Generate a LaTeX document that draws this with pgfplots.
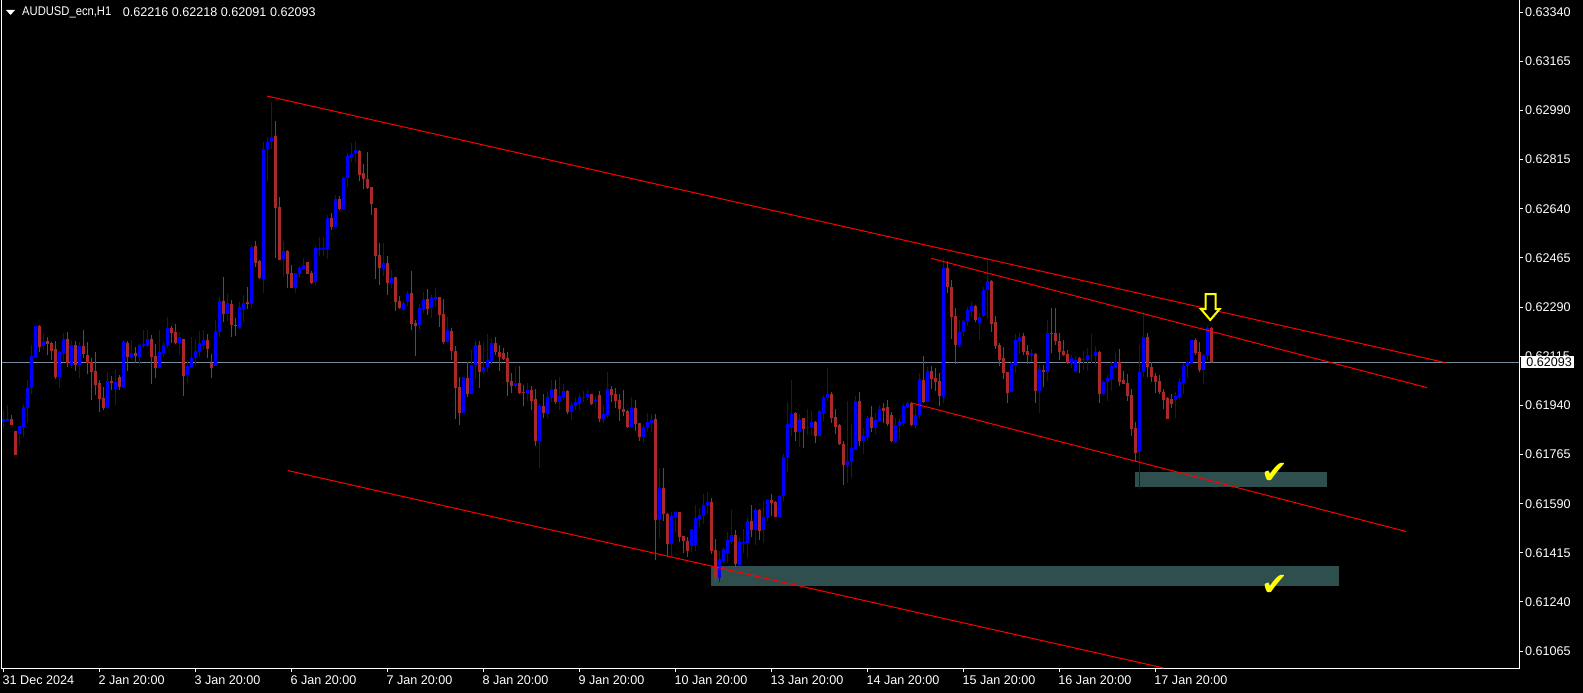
\documentclass[border=0pt]{standalone}
\usepackage{pgfplots}
\pgfplotsset{compat=1.18}
\usepackage{pgfplotstable}
\usepackage{graphicx}
\usepackage{fontspec}
\setmainfont{Liberation Sans}
\newfontfamily\symfont{DejaVu Sans}
\definecolor{bull}{RGB}{0,0,255}
\definecolor{bear}{RGB}{170,40,40}
\definecolor{zone}{RGB}{47,79,79}
\definecolor{bidline}{RGB}{119,136,153}
\definecolor{tl}{RGB}{255,0,0}
\definecolor{yel}{RGB}{255,255,0}

\pgfplotstableread{
n o h l c
1 0.61882 0.61923 0.61858 0.61891
2 0.61885 0.61940 0.61884 0.61891
5 0.61839 0.61867 0.61796 0.61866
6 0.61864 0.61945 0.61828 0.61934
7 0.61932 0.62030 0.61878 0.62003
8 0.62003 0.62155 0.61980 0.62116
9 0.62113 0.62224 0.62110 0.62222
11 0.62152 0.62195 0.62139 0.62169
15 0.62041 0.62135 0.62003 0.62131
16 0.62127 0.62197 0.62098 0.62176
18 0.62084 0.62171 0.62073 0.62154
20 0.62084 0.62164 0.62038 0.62151
27 0.61932 0.62060 0.61927 0.62027
29 0.61998 0.62068 0.61941 0.62023
31 0.62005 0.62169 0.62003 0.62165
33 0.62110 0.62173 0.62101 0.62126
35 0.62113 0.62160 0.62081 0.62156
36 0.62150 0.62208 0.62143 0.62160
37 0.62152 0.62208 0.62148 0.62176
40 0.62074 0.62208 0.62073 0.62129
41 0.62128 0.62166 0.62112 0.62155
42 0.62155 0.62255 0.62145 0.62217
45 0.62162 0.62201 0.62119 0.62183
47 0.62048 0.62101 0.62018 0.62081
48 0.62076 0.62183 0.62074 0.62109
49 0.62107 0.62176 0.62081 0.62133
50 0.62129 0.62205 0.62113 0.62163
51 0.62155 0.62209 0.62141 0.62173
54 0.62081 0.62245 0.62080 0.62205
55 0.62202 0.62327 0.62183 0.62312
57 0.62266 0.62336 0.62240 0.62304
60 0.62217 0.62308 0.62212 0.62289
61 0.62282 0.62333 0.62238 0.62303
63 0.62302 0.62512 0.62288 0.62504
66 0.62391 0.62879 0.62339 0.62852
67 0.62852 0.62896 0.62737 0.62878
68 0.62879 0.63020 0.62854 0.62896
71 0.62460 0.62524 0.62396 0.62490
74 0.62359 0.62412 0.62341 0.62411
75 0.62409 0.62435 0.62396 0.62429
76 0.62426 0.62465 0.62421 0.62440
79 0.62380 0.62506 0.62369 0.62500
80 0.62497 0.62539 0.62472 0.62500
81 0.62497 0.62541 0.62470 0.62500
82 0.62497 0.62618 0.62462 0.62607
84 0.62576 0.62690 0.62574 0.62675
86 0.62639 0.62754 0.62636 0.62750
87 0.62750 0.62837 0.62718 0.62829
88 0.62822 0.62873 0.62808 0.62834
89 0.62837 0.62881 0.62808 0.62849
96 0.62426 0.62517 0.62402 0.62448
98 0.62377 0.62422 0.62359 0.62394
101 0.62281 0.62311 0.62277 0.62305
102 0.62312 0.62347 0.62292 0.62338
105 0.62226 0.62301 0.62210 0.62288
106 0.62283 0.62344 0.62269 0.62319
108 0.62288 0.62332 0.62252 0.62326
109 0.62319 0.62358 0.62290 0.62326
112 0.62165 0.62255 0.62161 0.62209
116 0.61914 0.62042 0.61913 0.62041
118 0.61982 0.62137 0.61981 0.62085
119 0.62082 0.62169 0.62034 0.62156
121 0.62060 0.62166 0.62053 0.62077
122 0.62077 0.62194 0.62059 0.62102
123 0.62098 0.62180 0.62082 0.62162
129 0.62010 0.62077 0.62003 0.62020
132 0.61980 0.62020 0.61957 0.61995
135 0.61814 0.61945 0.61718 0.61939
137 0.61910 0.61989 0.61896 0.61970
138 0.61967 0.62030 0.61953 0.61997
140 0.61953 0.62041 0.61925 0.61973
141 0.61970 0.62016 0.61958 0.61991
143 0.61918 0.61953 0.61889 0.61941
144 0.61939 0.61969 0.61925 0.61952
145 0.61946 0.61980 0.61925 0.61970
146 0.61967 0.61991 0.61953 0.61971
147 0.61970 0.61995 0.61960 0.61980
149 0.61958 0.61974 0.61928 0.61960
151 0.61893 0.61941 0.61878 0.61909
152 0.61906 0.62059 0.61896 0.61998
158 0.61864 0.61970 0.61861 0.61931
161 0.61829 0.61871 0.61807 0.61863
162 0.61861 0.61913 0.61850 0.61882
163 0.61878 0.61909 0.61846 0.61888
165 0.61533 0.61717 0.61469 0.61646
168 0.61448 0.61561 0.61405 0.61547
169 0.61544 0.61565 0.61490 0.61561
173 0.61440 0.61501 0.61418 0.61500
174 0.61444 0.61585 0.61423 0.61539
175 0.61535 0.61576 0.61506 0.61551
176 0.61547 0.61624 0.61518 0.61585
177 0.61585 0.61633 0.61554 0.61596
180 0.61326 0.61423 0.61312 0.61393
181 0.61386 0.61434 0.61380 0.61429
182 0.61415 0.61489 0.61379 0.61461
183 0.61455 0.61567 0.61448 0.61478
185 0.61372 0.61471 0.61371 0.61455
186 0.61451 0.61500 0.61415 0.61455
187 0.61449 0.61539 0.61398 0.61528
189 0.61497 0.61576 0.61444 0.61567
191 0.61497 0.61599 0.61451 0.61542
192 0.61540 0.61606 0.61529 0.61603
195 0.61542 0.61621 0.61540 0.61617
196 0.61617 0.61767 0.61599 0.61756
197 0.61756 0.61952 0.61703 0.61873
198 0.61859 0.62030 0.61831 0.61909
200 0.61845 0.61909 0.61792 0.61891
202 0.61860 0.61927 0.61834 0.61863
203 0.61863 0.61920 0.61834 0.61881
205 0.61831 0.61923 0.61827 0.61920
206 0.61913 0.61977 0.61884 0.61970
207 0.61966 0.62074 0.61955 0.61980
212 0.61728 0.61955 0.61663 0.61742
213 0.61739 0.61873 0.61681 0.61788
214 0.61784 0.61973 0.61783 0.61955
216 0.61813 0.61859 0.61767 0.61831
217 0.61827 0.61902 0.61813 0.61895
219 0.61859 0.61913 0.61838 0.61888
220 0.61885 0.61941 0.61882 0.61927
224 0.61809 0.61895 0.61806 0.61870
225 0.61866 0.61894 0.61820 0.61884
226 0.61877 0.61945 0.61868 0.61939
227 0.61934 0.61955 0.61930 0.61948
229 0.61870 0.61934 0.61856 0.61905
230 0.61905 0.62055 0.61891 0.62034
232 0.61953 0.62076 0.61952 0.62062
236 0.61971 0.62465 0.61948 0.62429
240 0.62155 0.62244 0.62149 0.62201
241 0.62201 0.62244 0.62187 0.62240
242 0.62240 0.62290 0.62222 0.62279
243 0.62276 0.62308 0.62253 0.62294
245 0.62232 0.62269 0.62174 0.62254
246 0.62258 0.62361 0.62254 0.62351
247 0.62351 0.62465 0.62247 0.62383
253 0.61987 0.62094 0.61986 0.62087
254 0.62083 0.62194 0.62055 0.62172
255 0.62169 0.62197 0.62123 0.62183
258 0.62119 0.62140 0.62094 0.62126
260 0.61991 0.62083 0.61913 0.62069
262 0.62059 0.62244 0.62026 0.62197
268 0.62091 0.62119 0.62073 0.62108
269 0.62059 0.62115 0.62058 0.62101
271 0.62101 0.62133 0.62066 0.62104
272 0.62101 0.62145 0.62062 0.62119
273 0.62115 0.62194 0.62091 0.62119
274 0.62115 0.62151 0.62080 0.62130
276 0.61980 0.62027 0.61977 0.62023
277 0.62022 0.62048 0.61955 0.62038
278 0.62034 0.62098 0.61991 0.62081
279 0.62073 0.62126 0.62069 0.62094
285 0.61773 0.62155 0.61641 0.62060
286 0.62060 0.62272 0.62042 0.62184
294 0.61959 0.61987 0.61896 0.61973
295 0.61971 0.62035 0.61962 0.62024
296 0.62019 0.62089 0.61982 0.62080
297 0.62080 0.62099 0.62038 0.62094
298 0.62090 0.62173 0.62087 0.62172
301 0.62067 0.62124 0.62017 0.62119
302 0.62119 0.62222 0.62101 0.62215
}\bulltab

\pgfplotstableread{
n o h l c
3 0.61891 0.61904 0.61870 0.61871
4 0.61848 0.61849 0.61763 0.61764
10 0.62222 0.62226 0.62131 0.62149
12 0.62169 0.62183 0.62118 0.62160
13 0.62161 0.62165 0.62100 0.62135
14 0.62139 0.62168 0.62035 0.62041
17 0.62176 0.62201 0.62078 0.62089
19 0.62154 0.62169 0.62063 0.62084
21 0.62151 0.62208 0.62107 0.62123
22 0.62119 0.62165 0.62051 0.62089
23 0.62094 0.62108 0.61959 0.62060
24 0.62062 0.62130 0.61977 0.62013
25 0.62019 0.62030 0.61917 0.61964
26 0.61966 0.62004 0.61922 0.61932
28 0.62027 0.62044 0.61995 0.62021
30 0.62041 0.62047 0.61995 0.62005
32 0.62162 0.62170 0.62063 0.62113
34 0.62126 0.62148 0.62090 0.62116
38 0.62176 0.62190 0.62017 0.62113
39 0.62116 0.62157 0.62039 0.62074
43 0.62217 0.62223 0.62162 0.62198
44 0.62201 0.62230 0.62157 0.62162
46 0.62176 0.62177 0.61974 0.62044
52 0.62173 0.62193 0.62110 0.62141
53 0.62092 0.62123 0.62039 0.62074
56 0.62312 0.62397 0.62238 0.62266
58 0.62302 0.62315 0.62184 0.62226
59 0.62226 0.62251 0.62188 0.62224
62 0.62308 0.62361 0.62283 0.62302
64 0.62507 0.62525 0.62431 0.62448
65 0.62454 0.62458 0.62391 0.62395
69 0.62898 0.62951 0.62464 0.62644
70 0.62646 0.62682 0.62456 0.62458
72 0.62490 0.62493 0.62358 0.62409
73 0.62411 0.62440 0.62356 0.62358
77 0.62450 0.62451 0.62408 0.62409
78 0.62411 0.62418 0.62373 0.62377
83 0.62607 0.62623 0.62564 0.62576
85 0.62675 0.62685 0.62636 0.62639
90 0.62846 0.62849 0.62737 0.62760
91 0.62767 0.62800 0.62711 0.62746
92 0.62746 0.62842 0.62709 0.62712
93 0.62716 0.62719 0.62619 0.62658
94 0.62643 0.62644 0.62391 0.62473
95 0.62475 0.62517 0.62370 0.62430
97 0.62448 0.62472 0.62334 0.62377
99 0.62397 0.62398 0.62277 0.62309
100 0.62312 0.62330 0.62283 0.62288
103 0.62340 0.62419 0.62210 0.62231
104 0.62233 0.62244 0.62117 0.62224
107 0.62319 0.62354 0.62263 0.62284
110 0.62326 0.62327 0.62220 0.62263
111 0.62265 0.62319 0.62160 0.62165
113 0.62205 0.62216 0.62100 0.62134
114 0.62134 0.62152 0.61893 0.62003
115 0.62006 0.62041 0.61871 0.61914
117 0.62038 0.62095 0.61968 0.61982
120 0.62155 0.62169 0.62003 0.62060
124 0.62162 0.62183 0.62119 0.62130
125 0.62130 0.62155 0.62062 0.62112
126 0.62127 0.62144 0.62102 0.62104
127 0.62109 0.62130 0.61975 0.62024
128 0.62027 0.62055 0.61985 0.62010
130 0.62020 0.62080 0.61979 0.61985
131 0.61986 0.62011 0.61939 0.61983
133 0.61995 0.62009 0.61925 0.61957
134 0.61961 0.61998 0.61796 0.61814
136 0.61938 0.61980 0.61896 0.61914
139 0.61997 0.62030 0.61944 0.61953
142 0.61991 0.61995 0.61910 0.61918
148 0.61980 0.61981 0.61942 0.61946
150 0.61977 0.61991 0.61882 0.61893
153 0.61998 0.62009 0.61953 0.61978
154 0.61980 0.62002 0.61932 0.61957
155 0.61959 0.61980 0.61886 0.61928
156 0.61927 0.61995 0.61903 0.61918
157 0.61920 0.61924 0.61861 0.61864
159 0.61931 0.61959 0.61850 0.61875
160 0.61877 0.61878 0.61814 0.61829
164 0.61891 0.61909 0.61391 0.61533
166 0.61646 0.61717 0.61529 0.61554
167 0.61554 0.61558 0.61404 0.61448
170 0.61560 0.61561 0.61453 0.61472
171 0.61475 0.61476 0.61415 0.61458
172 0.61457 0.61472 0.61401 0.61423
178 0.61596 0.61610 0.61412 0.61421
179 0.61425 0.61464 0.61309 0.61326
184 0.61478 0.61496 0.61366 0.61377
188 0.61528 0.61585 0.61472 0.61497
190 0.61567 0.61571 0.61462 0.61494
193 0.61603 0.61624 0.61547 0.61592
194 0.61596 0.61599 0.61541 0.61542
199 0.61913 0.61916 0.61813 0.61845
201 0.61895 0.61896 0.61789 0.61856
204 0.61881 0.61884 0.61807 0.61831
208 0.61980 0.61987 0.61877 0.61895
209 0.61898 0.61927 0.61838 0.61863
210 0.61870 0.61873 0.61799 0.61802
211 0.61802 0.61813 0.61656 0.61728
215 0.61955 0.61987 0.61796 0.61814
218 0.61898 0.61938 0.61845 0.61859
221 0.61930 0.61948 0.61877 0.61920
222 0.61934 0.61959 0.61865 0.61873
223 0.61905 0.61916 0.61811 0.61813
228 0.61948 0.61952 0.61866 0.61870
231 0.62030 0.62115 0.61948 0.61952
233 0.62062 0.62080 0.61999 0.62034
234 0.62037 0.62073 0.61991 0.62023
235 0.62027 0.62055 0.61939 0.61974
237 0.62429 0.62454 0.62340 0.62361
238 0.62361 0.62386 0.62177 0.62256
239 0.62258 0.62287 0.62088 0.62155
244 0.62294 0.62297 0.62237 0.62244
248 0.62383 0.62386 0.62201 0.62230
249 0.62237 0.62258 0.62140 0.62151
250 0.62155 0.62162 0.62081 0.62101
251 0.62108 0.62148 0.62034 0.62055
252 0.62059 0.62060 0.61948 0.61984
256 0.62187 0.62197 0.62119 0.62130
257 0.62133 0.62155 0.62087 0.62119
259 0.62123 0.62126 0.61948 0.61991
261 0.62066 0.62083 0.62004 0.62059
263 0.62197 0.62287 0.62126 0.62195
264 0.62197 0.62287 0.62155 0.62169
265 0.62169 0.62197 0.62101 0.62130
266 0.62133 0.62172 0.62115 0.62119
267 0.62123 0.62137 0.62087 0.62091
270 0.62108 0.62112 0.62055 0.62094
275 0.62130 0.62133 0.61948 0.61980
280 0.62094 0.62140 0.62009 0.62023
281 0.62030 0.62062 0.62015 0.62016
282 0.62019 0.62051 0.61955 0.61973
283 0.61977 0.61998 0.61831 0.61856
284 0.61859 0.61880 0.61739 0.61770
287 0.62184 0.62197 0.62041 0.62075
288 0.62075 0.62095 0.62024 0.62042
289 0.62044 0.62054 0.61985 0.62023
290 0.62026 0.62048 0.61980 0.61987
291 0.61987 0.61999 0.61928 0.61959
292 0.61966 0.61969 0.61891 0.61892
293 0.61962 0.61980 0.61930 0.61944
299 0.62172 0.62180 0.62120 0.62127
300 0.62131 0.62165 0.62058 0.62066
303 0.62216 0.62218 0.62091 0.62093
}\beartab

\begin{document}
\begin{tikzpicture}[x=1pt,y=1pt]
\useasboundingbox (0,0) rectangle (1583,-693);
\fill[black] (0,0) rectangle (1583,-693);
\begin{axis}[
  at={(2pt,0pt)}, anchor=north west,
  scale only axis, width=1517pt, height=668pt,
  xmin=0.625, xmax=379.95, ymin=0.61005, ymax=0.63383,
  axis line style={white, line width=1pt},
  xtick pos=left, ytick pos=right, yticklabel pos=right,
  tick align=outside, major tick length=4pt,
  tick style={white, line width=1pt},
  scaled y ticks=false,
  xtick={1,25,49,73,97,121,145,169,193,217,241,265,289},
  xticklabels={{31 Dec 2024},{2 Jan 20:00},{3 Jan 20:00},{6 Jan 20:00},{7 Jan 20:00},{8 Jan 20:00},{9 Jan 20:00},{10 Jan 20:00},{13 Jan 20:00},{14 Jan 20:00},{15 Jan 20:00},{16 Jan 20:00},{17 Jan 20:00}},
  ytick={0.61065,0.61240,0.61415,0.61590,0.61765,0.61940,0.62115,0.62290,0.62465,0.62640,0.62815,0.62990,0.63165,0.63340},
  ticklabel style={font=\fontsize{12.6}{14}\selectfont, text=white},
  yticklabel style={anchor=west, inner sep=0pt, xshift=2pt,
    /pgf/number format/fixed, /pgf/number format/fixed zerofill,
    /pgf/number format/precision=5, /pgf/number format/assume math mode=true},
  xticklabel style={anchor=north west, inner sep=0pt, xshift=-1pt, yshift=-3pt},
  clip=true,
]
% zones
\fill[zone] (axis cs:177.9,0.61368) rectangle (axis cs:334.9,0.61298);
\fill[zone] (axis cs:283.9,0.61703) rectangle (axis cs:331.9,0.61650);
% bid line
\addplot[bidline, line width=1pt, forget plot] coordinates {(0.625,0.62093) (379.95,0.62093)};
% wicks
\addplot[forget plot, draw=none, mark=none,
  error bars/.cd, y dir=plus, y explicit, error mark=none,
  error bar style={draw=bull, line width=1pt}]
  table[x=n, y=l, y error expr=\thisrow{h}-\thisrow{l}] {\bulltab};
\addplot[forget plot, draw=none, mark=none,
  error bars/.cd, y dir=plus, y explicit, error mark=none,
  error bar style={draw=bear, line width=1pt}]
  table[x=n, y=l, y error expr=\thisrow{h}-\thisrow{l}] {\beartab};
% bodies
\addplot[forget plot, draw=none, mark=none,
  error bars/.cd, y dir=plus, y explicit, error mark=none,
  error bar style={draw=bull, line width=3pt}]
  table[x=n, y=o, y error expr=\thisrow{c}-\thisrow{o}] {\bulltab};
\addplot[forget plot, draw=none, mark=none,
  error bars/.cd, y dir=plus, y explicit, error mark=none,
  error bar style={draw=bear, line width=3pt}]
  table[x=n, y=c, y error expr=\thisrow{o}-\thisrow{c}] {\beartab};
% trend lines
\addplot[tl, line width=1pt, forget plot] coordinates {(66.95,0.63041) (361.55,0.62092)};
\addplot[tl, line width=1pt, forget plot] coordinates {(233.05,0.62463) (357.0,0.62003)};
\addplot[tl, line width=1pt, forget plot] coordinates {(227.9,0.61949) (351.7,0.61491)};
\addplot[tl, line width=1pt, forget plot] coordinates {(72.05,0.61708) (291.1,0.61005)};
% arrow
\draw[yel, line width=2pt, fill=black, line join=miter]
  (axis cs:301.6,0.62336) -- (axis cs:304.1,0.62336) -- (axis cs:304.1,0.62283)
  -- (axis cs:305.1,0.62283) -- (axis cs:302.75,0.62244) -- (axis cs:300.4,0.62283)
  -- (axis cs:301.6,0.62283) -- cycle;
% checks
\node[text=yel, font=\symfont\fontsize{32}{32}\selectfont, inner sep=0pt] at (axis cs:318.9,0.61697) {✔};
\node[text=yel, font=\symfont\fontsize{32}{32}\selectfont, inner sep=0pt] at (axis cs:318.9,0.61300) {✔};
\end{axis}
% current price label
\node[anchor=west, fill=white, text=black, inner sep=0pt, minimum width=52.6pt, minimum height=12.6pt,
  font=\fontsize{12.6}{14}\selectfont] at (1520.7,-362) {\hspace{4pt}0.62093\hfill};
% header
\fill[white] (6,-10) -- (15,-10) -- (10.5,-15) -- cycle;
\node[anchor=west, inner sep=0pt, text=white, font=\fontsize{12.6}{14}\selectfont] at (22,-12.5) {\scalebox{0.89}[1]{AUDUSD\_ecn,H1}};
\node[anchor=west, inner sep=0pt, text=white, font=\fontsize{12.6}{14}\selectfont] at (122.7,-12.5) {0.62216 0.62218 0.62091 0.62093};
\end{tikzpicture}
\end{document}
